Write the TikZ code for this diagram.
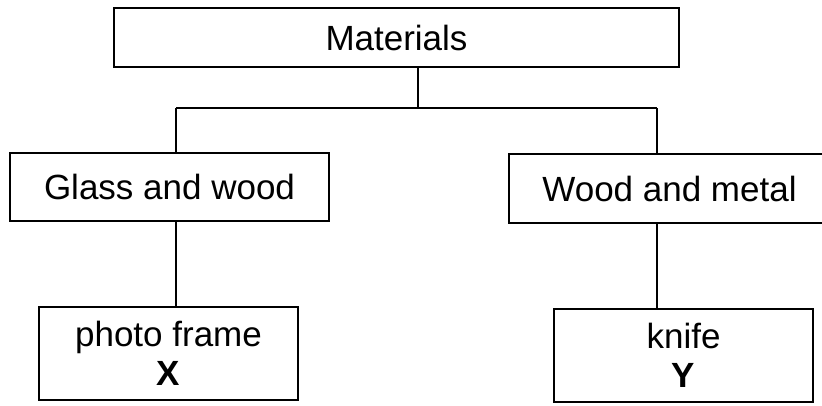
\documentclass[tikz,border=0pt]{standalone}
\usepackage{fontspec}
\setmainfont{Liberation Sans}
\begin{document}
\begin{tikzpicture}[x=1pt,y=-1pt,line width=1.6pt,
	box/.style={rectangle, draw, inner sep=0pt, font=\fontsize{35}{39}\selectfont, align=center}]
	\useasboundingbox (0,0) rectangle (822,405);
	\node (mat) at (396.5, 37.5)	[box, minimum width=565pt, minimum height=59pt]	{Materials};
	\node (gw) at (169.5, 187)	[box, minimum width=319pt, minimum height=68pt]	{Glass and wood};
	\node (wm) at (669.5, 188.5)	[box, minimum width=321pt, minimum height=69pt]	{Wood and metal};
	\node (pf) at (168.5, 353.5)	[box, minimum width=259pt, minimum height=93pt]	{photo frame\\\textbf{X}};
	\node (kn) at (683.5, 355.5)	[box, minimum width=259pt, minimum height=93pt]	{knife\\\textbf{Y}};
	\coordinate (hub) at (418, 108);
	\coordinate (L) at (176, 108);
	\coordinate (R) at (657, 108);
	\draw (mat.south -| hub) -- (hub);
	\draw (L) -- (R);
	\draw (L) -- (L |- gw.north);
	\draw (R) -- (R |- wm.north);
	\draw (gw.south -| L) -- (L |- pf.north);
	\draw (wm.south -| R) -- (R |- kn.north);
\end{tikzpicture}
\end{document}
